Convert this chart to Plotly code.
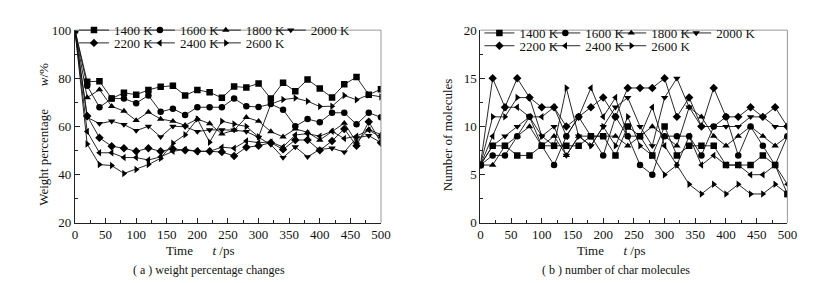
import plotly.graph_objects as go

# ---------------- data ----------------
time_ps = [0, 20, 40, 60, 80, 100, 120, 140, 160, 180, 200, 220, 240,
           260, 280, 300, 320, 340, 360, 380, 400, 420, 440, 460, 480, 500]
temps = ["1400 K", "1600 K", "1800 K", "2000 K", "2200 K", "2400 K", "2600 K"]

# (a) weight percentage w/%
w_1400 = [100, 78.6, 78.8, 71.6, 74.0, 73.2, 75.2, 76.5, 76.9, 72.9, 75.2, 74.2, 71.9,
          76.6, 76.2, 77.9, 71.6, 78.2, 74.6, 79.5, 75.8, 72.0, 77.5, 80.5, 73.2, 75.5]
w_1600 = [100, 76.9, 68.0, 71.6, 71.6, 69.7, 72.9, 66.1, 67.4, 64.8, 68.0, 68.0, 68.0,
          71.6, 68.4, 68.1, 69.3, 67.0, 60.1, 63.1, 61.8, 65.7, 65.7, 60.9, 65.7, 63.8]
w_1800 = [100, 72.0, 75.3, 68.4, 66.4, 62.5, 66.0, 63.1, 62.2, 60.5, 63.1, 61.2, 56.9,
          58.5, 63.8, 62.2, 57.9, 55.7, 59.0, 57.6, 54.4, 58.0, 61.4, 53.5, 58.8, 56.6]
w_2000 = [100, 63.8, 61.2, 62.2, 60.8, 58.3, 60.1, 55.7, 60.1, 59.9, 57.9, 58.6, 58.6,
          58.5, 57.9, 55.5, 52.5, 47.1, 51.5, 47.4, 50.5, 51.0, 49.4, 55.3, 56.2, 53.3]
w_2200 = [100, 64.4, 55.3, 51.8, 51.0, 49.7, 51.0, 49.7, 50.7, 50.1, 49.7, 49.7, 49.4,
          47.8, 51.4, 52.0, 53.3, 50.5, 54.4, 54.4, 50.1, 54.0, 59.0, 52.0, 62.0, 53.3]
w_2400 = [100, 57.9, 49.1, 49.1, 47.1, 47.1, 46.1, 47.4, 49.7, 50.5, 49.7, 49.7, 51.4,
          51.0, 54.0, 53.3, 53.6, 51.5, 56.5, 57.0, 56.0, 58.0, 55.0, 56.0, 58.5, 55.5]
w_2600 = [100, 52.7, 44.2, 43.8, 40.5, 42.2, 44.2, 46.8, 53.1, 56.6, 63.1, 53.5, 62.2,
          61.0, 60.0, 55.7, 69.3, 71.2, 71.8, 70.5, 68.3, 68.4, 72.9, 71.1, 73.2, 72.3]

# (b) number of char molecules
n_1400 = [6, 8, 8, 7, 7, 8, 8, 8, 8, 9, 9, 7, 10, 9, 7, 10, 7, 8, 8, 8, 6, 6, 6, 7, 6, 3]
n_1600 = [6, 7, 7, 9, 11, 8, 6, 9, 11, 9, 7, 11, 9, 6, 5, 9, 9, 9, 7, 10, 11, 7, 10, 8, 6, 9]
n_1800 = [6, 6, 8, 9, 10, 8, 9, 7, 9, 9, 9, 9, 8, 9, 10, 9, 8, 12, 11, 9, 8, 9, 10, 9, 8, 9]
n_2000 = [6, 8, 9, 10, 11, 9, 10, 7, 9, 8, 10, 12, 13, 10, 8, 13, 15, 12, 10, 10, 10, 10, 11, 11, 10, 10]
n_2200 = [6, 15, 12, 15, 13, 12, 12, 10, 11, 12, 13, 11, 14, 14, 14, 15, 11, 13, 10, 14, 11, 11, 12, 11, 12, 10]
n_2400 = [6, 9, 12, 12, 11, 11, 12, 9, 11, 14, 11, 13, 9, 9, 12, 8, 6, 9, 6, 7, 6, 6, 5, 5, 6, 4]
n_2600 = [6, 11, 11, 13, 13, 9, 8, 14, 9, 8, 10, 8, 11, 8, 7, 5, 6, 4, 3, 4, 3, 4, 3, 3, 4, 3]

x_ticks = [0, 50, 100, 150, 200, 250, 300, 350, 400, 450, 500]
w_ticks = [20, 40, 60, 80, 100]
n_ticks = [0, 5, 10, 15, 20]

weight_series = [w_1400, w_1600, w_1800, w_2000, w_2200, w_2400, w_2600]
count_series = [n_1400, n_1600, n_1800, n_2000, n_2200, n_2400, n_2600]

# ---------------- styling ----------------
W, H = 814, 283
symbols = ["square", "circle", "triangle-up", "triangle-down",
           "diamond", "triangle-left", "triangle-right"]
SERIF = "Liberation Serif, Times New Roman, serif"


def px(x):
    return x / W


def py(y):
    return 1 - y / H


# legend entry layout: column offset from plot's left edge (px), row index
col_off = [30, 97, 164, 230, 30, 97, 164]
row_idx = [0, 0, 0, 0, 1, 1, 1]
panels = [
    dict(xa="x", ya="y", left=65, row_y=[30, 43.5], series=weight_series),
    dict(xa="x2", ya="y2", left=477, row_y=[33, 46.5], series=count_series),
]

fig = go.Figure()
legends = {}
leg_n = 0
for p in panels:
    for i, name in enumerate(temps):
        leg_n += 1
        key = "legend" if leg_n == 1 else f"legend{leg_n}"
        legends[key] = dict(
            x=px(p["left"] + col_off[i] - 31), y=py(p["row_y"][row_idx[i]] - 14),
            xanchor="left", yanchor="middle", orientation="h",
            bgcolor="rgba(0,0,0,0)", borderwidth=0, visible=True,
            font=dict(family=SERIF, size=13, color="#111"))
        fig.add_trace(go.Scatter(
            x=time_ps, y=p["series"][i], name=name, mode="lines+markers",
            line=dict(color="#111", width=0.9),
            marker=dict(symbol=symbols[i], size=6.5, color="#000"),
            xaxis=p["xa"], yaxis=p["ya"], legend=key, showlegend=True))

ydom = [py(219.5), py(16)]
axis_common = dict(
    showgrid=False, zeroline=False, showline=True, linecolor="#222", linewidth=1,
    ticks="inside", ticklen=5, tickcolor="#222", tickwidth=1,
    tickfont=dict(family=SERIF, size=13, color="#111"),
)

fig.update_layout(
    width=W, height=H,
    margin=dict(l=0, r=0, t=0, b=0),
    paper_bgcolor="white", plot_bgcolor="white",
    showlegend=True,
    font=dict(family=SERIF, color="#111"),
    xaxis=dict(domain=[px(65), px(376)], range=[0, 500], tickvals=x_ticks,
               minor=dict(ticks="inside", ticklen=3, dtick=25, tickcolor="#222"),
               anchor="y", **axis_common),
    yaxis=dict(domain=ydom, range=[20, 100], tickvals=w_ticks,
               minor=dict(ticks="inside", ticklen=3, dtick=10, tickcolor="#222"),
               anchor="x", **axis_common),
    xaxis2=dict(domain=[px(477), px(789)], range=[0, 500], tickvals=x_ticks,
                minor=dict(ticks="inside", ticklen=3, dtick=25, tickcolor="#222"),
                anchor="y2", **axis_common),
    yaxis2=dict(domain=ydom, range=[0, 20], tickvals=n_ticks,
                minor=dict(ticks="inside", ticklen=3, dtick=2.5, tickcolor="#222"),
                anchor="x2", **axis_common),
    **legends,
)

# top/right frame lines (lighter gray)
for xr, yr in (("x domain", "y domain"), ("x2 domain", "y2 domain")):
    fig.add_shape(type="line", xref=xr, yref=yr, x0=0, x1=1, y0=1, y1=1,
                  line=dict(color="#999", width=1))
    fig.add_shape(type="line", xref=xr, yref=yr, x0=1, x1=1, y0=0, y1=1,
                  line=dict(color="#999", width=1))

nb = "\u00a0"
ann = [
    dict(text="Weight percentage" + nb * 7 + "<i>w</i>/%", x=px(33), y=py(126),
         textangle=-90, font=dict(size=13)),
    dict(text="Number of molecules", x=px(443), y=py(126), textangle=-90,
         font=dict(size=13)),
    dict(text="Time" + nb * 6 + "<i>t</i> /ps", x=px(193), y=py(249), font=dict(size=13)),
    dict(text="Time" + nb * 6 + "<i>t</i> /ps", x=px(610), y=py(249), font=dict(size=13)),
    dict(text="(" + nb + "a" + nb + ")" + nb + "weight percentage changes", x=px(201), y=py(269),
         font=dict(size=12)),
    dict(text="(" + nb + "b" + nb + ")" + nb + "number of char molecules", x=px(615), y=py(269),
         font=dict(size=12)),
]
for a in ann:
    fig.add_annotation(xref="paper", yref="paper", showarrow=False,
                       xanchor="center", yanchor="middle", **a)

fig.write_html("out.html")
